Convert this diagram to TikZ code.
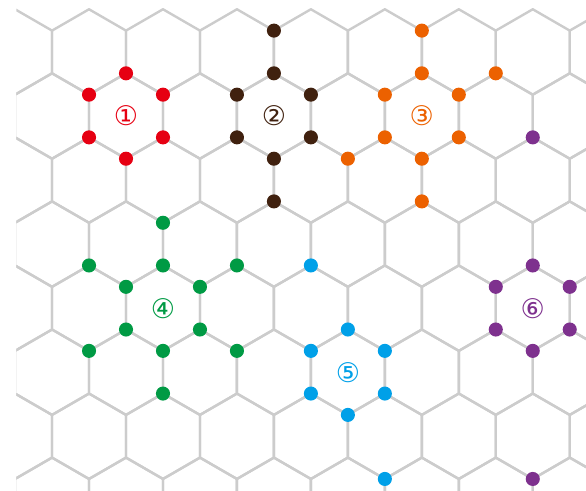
\documentclass[tikz,border=0pt]{standalone}
\usepackage{fontspec}
\newfontfamily\circfont{DejaVu Sans}
\definecolor{KGrid}{HTML}{CCCCCC}
\definecolor{KRed}{HTML}{E60012}
\definecolor{KBrown}{HTML}{40210F}
\definecolor{KOrange}{HTML}{EC6100}
\definecolor{KGreen}{HTML}{009A44}
\definecolor{KBlue}{HTML}{00A0E8}
\definecolor{KPurple}{HTML}{7E318E}
\usepackage{tikz}
\usetikzlibrary{calc}

\begin{document}
\begin{tikzpicture}[
    gridline/.style={draw=KGrid,line width=1.6pt,line join=round},
    dot/.style={circle,inner sep=0pt,minimum size=0.33cm},
    tag/.style={font=\circfont\fontsize{18}{18}\selectfont,inner sep=0pt}]
  \useasboundingbox (-2.951,2.717) rectangle (10.773,-8.782);
  % honeycomb, cut at the frame
  \begin{scope}
    \clip (-2.57,2.8) rectangle (10.773,-8.782);
    \foreach \r in {-1,...,6}{
      \pgfmathsetmacro\off{mod(\r+2,2)/2}
      \foreach \k in {-2,...,7}{
        \draw[gridline] ({(\k+\off)*sqrt(3)},{-1.5*\r})
          +(90:1) -- +(30:1) -- +(-30:1) -- +(-90:1) -- +(-150:1) -- +(150:1) -- cycle;
      }
    }
  \end{scope}
  % hexagon centres
  \coordinate (h1) at (0,0);
  \coordinate (h2) at ({2*sqrt(3)},0);
  \coordinate (h3) at ({4*sqrt(3)},0);
  \coordinate (h4) at ({sqrt(3)/2},-4.5);
  \coordinate (h5) at ({3*sqrt(3)},-6);
  \coordinate (h6) at ({5.5*sqrt(3)},-4.5);
  % corner dots of each hexagon
  \foreach \h/\col in {1/KRed,2/KBrown,3/KOrange,4/KGreen,5/KBlue,6/KPurple}{
    \foreach \a [count=\i] in {90,30,-30,-90,-150,150}
      \node[dot,fill=\col] (v\h\i) at ($(h\h)+(\a:1)$) {};
  }
  % outer dots
  \node[dot,fill=KBrown] (x2a) at ($(h2)+(0,2)$) {};
  \node[dot,fill=KBrown] (x2b) at ($(h2)+(0,-2)$) {};
  \node[dot,fill=KOrange] (x3a) at ($(h3)+(0,2)$) {};
  \node[dot,fill=KOrange] (x3b) at ($(h3)+(30:2)$) {};
  \node[dot,fill=KOrange] (x3c) at ($(h3)+(210:2)$) {};
  \node[dot,fill=KOrange] (x3d) at ($(h3)+(0,-2)$) {};
  \foreach \a [count=\i] in {90,30,-30,-90,-150,150}
    \node[dot,fill=KGreen] (x4\i) at ($(h4)+(\a:2)$) {};
  \node[dot,fill=KBlue] (x5a) at ($(h5)+({-sqrt(3)/2},2.5)$) {};
  \node[dot,fill=KBlue] (x5b) at ($(h5)+({sqrt(3)/2},-2.5)$) {};
  \node[dot,fill=KPurple] (x6a) at ($(h6)+(0,4)$) {};
  \node[dot,fill=KPurple] (x6b) at ($(h6)+(0,-4)$) {};
  % labels
  \node[tag,text=KRed] (t1) at (h1) {①};
  \node[tag,text=KBrown] (t2) at (h2) {②};
  \node[tag,text=KOrange] (t3) at (h3) {③};
  \node[tag,text=KGreen] (t4) at (h4) {④};
  \node[tag,text=KBlue] (t5) at (h5) {⑤};
  \node[tag,text=KPurple] (t6) at (h6) {⑥};
\end{tikzpicture}
\end{document}
